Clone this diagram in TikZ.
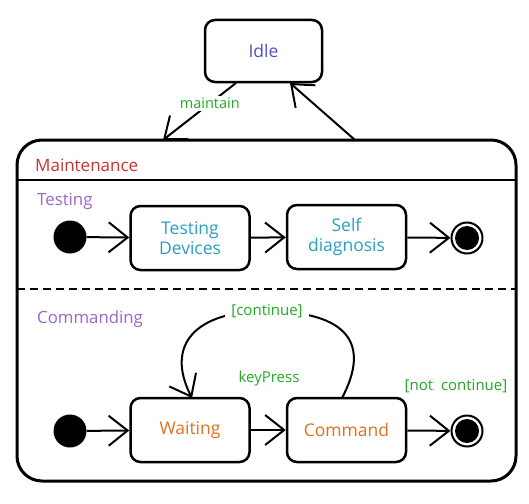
\documentclass[tikz,border=0pt]{standalone}
\usepackage{fontspec}
\setmainfont{Open Sans}
\usetikzlibrary{arrows.meta}
\definecolor{cidle}{HTML}{5050C8}
\definecolor{cmaint}{HTML}{C83232}
\definecolor{cregion}{HTML}{9966CC}
\definecolor{cteal}{HTML}{2AA0C0}
\definecolor{corange}{HTML}{E07020}
\definecolor{cgreen}{HTML}{22AA22}
\tikzset{
  statebox/.style={draw, line width=2.5pt, rounded corners=10pt, minimum width=119pt, minimum height=64pt, align=center, inner sep=0pt, font=\fontsize{17.5}{20}\selectfont},
  container/.style={draw, line width=3pt, rounded corners=25pt, minimum width=499pt, minimum height=341pt, inner sep=0pt},
  initdot/.style={circle, fill=black, minimum size=33pt, inner sep=0pt},
  finalring/.style={circle, draw, line width=2pt, fill=white, minimum size=31pt, inner sep=0pt},
  finaldot/.style={circle, fill=black, minimum size=24pt, inner sep=0pt},
  trans/.style={line width=2pt, -{Straight Barb[length=19pt, width=30pt, line width=2pt]}},
  lbl/.style={text=cgreen, font=\fontsize{15}{17}\selectfont, inner sep=2pt},
  region/.style={text=cregion, font=\fontsize{16.8}{19}\selectfont, anchor=west, inner sep=0pt},
}
\begin{document}
\begin{tikzpicture}[x=1pt, y=-1pt]
\useasboundingbox (0,0) rectangle (529,503);
% Idle
\node[statebox, minimum width=117pt, minimum height=62pt, text=cidle] (idle) at (263.5,51) {Idle};
% Maintenance container
\node[container] (maint) at (266.5,310.5) {};
\node[text=cmaint, anchor=west, inner sep=0pt, font=\fontsize{17}{19}\selectfont] (mtitle) at (35,165) {Maintenance};
\coordinate (tl) at (17,180);
\coordinate (tr) at (516,180);
\draw[line width=2.5pt] (tl) -- (tr);
\coordinate (dl) at (17,289);
\coordinate (dr) at (516,289);
\draw[line width=2.5pt, dash pattern=on 8pt off 5pt] (dl) -- (dr);
% region labels
\node[region] (rtest) at (37,201) {Testing};
\node[region] (rcmd) at (37,319) {Commanding};
% Testing region
\node[initdot] (i1) at (70,237) {};
\node[statebox, text=cteal] (td) at (190,238) {Testing\\Devices};
\node[statebox, text=cteal] (sd) at (346.5,237) {Self\\diagnosis};
\node[finalring] (f1) at (467,238) {};
\node[finaldot] (f1in) at (467,238) {};
\draw[trans] (i1) -- (td);
\draw[trans] (td) -- (sd);
\draw[trans] (sd) -- (f1);
% Commanding region
\node[initdot] (i2) at (70,431) {};
\node[statebox, text=corange] (wait) at (190,430) {Waiting};
\node[statebox, text=corange] (cmd) at (346.5,430) {Command};
\node[finalring] (f2) at (467,431) {};
\node[finaldot] (f2in) at (467,431) {};
\draw[trans] (i2) -- (wait);
\draw[trans] (wait) -- (cmd);
\draw[trans] (cmd) -- (f2);
\node[lbl] (keyp) at (269,379) {keyPress};
\node[lbl] (notc) at (456,386) {[not\ \ continue]};
% self loop
\coordinate (cs) at (342,398);
\coordinate (we) at (192,398);
\draw[trans] (cs) .. controls (370,345) and (350,312) .. (267,311)
  node[lbl, fill=white, inner xsep=6pt] (cont) {[continue]}
  .. controls (195,311) and (165,345) .. (we);
% Idle <-> Maintenance
\coordinate (ia) at (236,83);
\coordinate (ma) at (163,140);
\coordinate (mb) at (355,140);
\coordinate (ib) at (290,83);
\draw[trans] (ia) -- node[lbl, fill=white, pos=0.36, font=\fontsize{14.5}{17}\selectfont] (mlbl) {maintain} (ma);
\draw[trans] (mb) -- (ib);
\end{tikzpicture}
\end{document}
